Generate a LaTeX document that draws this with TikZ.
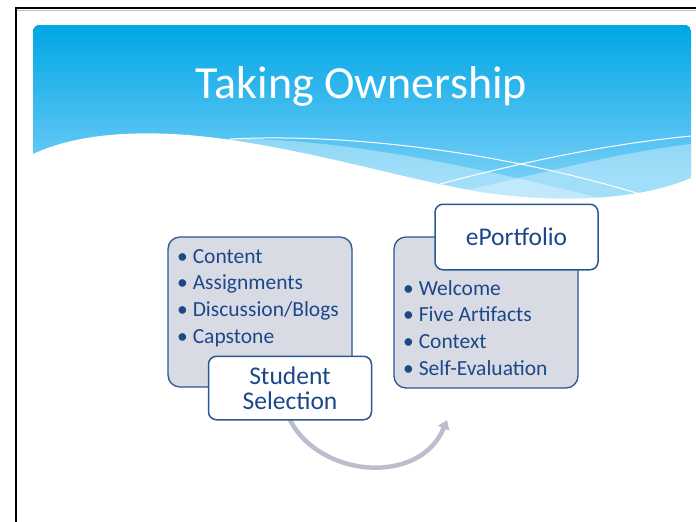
\documentclass[tikz,border=0pt]{standalone}
\usepackage{fontspec}
\setmainfont{Carlito}
\usetikzlibrary{arrows.meta}
\definecolor{skytop}{RGB}{0,166,229}
\definecolor{skybot}{RGB}{112,205,246}
\definecolor{txtblue}{RGB}{28,72,138}
\definecolor{boxblue}{RGB}{40,88,150}
\definecolor{boxgray}{RGB}{217,219,228}
\definecolor{arrowgray}{RGB}{186,190,205}

\begin{document}
\begin{tikzpicture}[
  x=1pt, y=-1pt,
  listbox/.style={draw=boxblue, line width=1.3pt, rounded corners=12pt, fill=boxgray, minimum width=184pt, minimum height=150pt},
  labelbox/.style={draw=boxblue, line width=1.5pt, rounded corners=8pt, fill=white, minimum width=163pt, align=center, text=txtblue, font=\fontsize{25.5}{25.5}\selectfont},
  item/.style={anchor=base west, inner sep=0pt, text=txtblue, font=\fontsize{21.5}{26}\selectfont},
  band/.style={fill=white, opacity=0.35},
  flow/.style={draw=arrowgray, line width=4.5pt, -{Triangle[length=9pt,width=12pt]}},
]
\useasboundingbox[fill=white] (0,0) rectangle (696,522);

% slide frame
\draw[gray!50, line width=1pt] (17,10.5) -- (696,10.5);
\draw[line width=2pt] (16,522) -- (16,8) -- (696,8);

% header banner
\begin{scope}
  \clip[rounded corners=7pt] (33,25) rectangle (691,240);
  \fill[top color=skytop, bottom color=skybot] (33,25) rectangle (691,175);
  \fill[skybot] (33,175) rectangle (691,215);
  \fill[band] (222,139) .. controls (320,137) and (440,158) .. (600,198) -- (691,212) -- (691,215) -- (222,215) -- cycle;
  \fill[band] (420,200) .. controls (520,180) and (600,155) .. (691,144) -- (691,215) -- (420,215) -- cycle;
  \fill[white] (33,154) .. controls (80,132) and (150,128) .. (231,140)
    .. controls (330,155) and (400,178) .. (480,192)
    .. controls (560,204) and (640,200) .. (691,178) -- (691,240) -- (33,240) -- cycle;
  \draw[white, line width=1pt] (230,139) .. controls (330,134) and (480,146) .. (640,194);
  \draw[white, line width=1pt] (440,184) .. controls (520,163) and (600,145) .. (691,136);
\end{scope}
\node[anchor=base, text=white, font=\fontsize{46}{46}\selectfont] (title) at (361.5,98) {Taking Ownership};

% left group
\node[listbox] (choices) at (260,312) {};
\foreach \t [count=\i] in {Content, Assignments, Discussion/Blogs, Capstone}
  \node[item] (choice\i) at (177,{263+26.7*(\i-1)}) {• \t};

% right group
\node[listbox, minimum height=151pt] (parts) at (486,312.5) {};
\foreach \t [count=\i] in {Welcome, Five Artifacts, Context, Self-Evaluation}
  \node[item] (part\i) at (403,{295+26.7*(\i-1)}) {• \t};
\node[labelbox, minimum height=65.5pt] (eport) at (516.5,237) {ePortfolio};

% transfer arrow, then the label box over its tail
\coordinate (arrowtip) at (447,420);
\coordinate (arrowtail) at (290,420);
\draw[flow] (arrowtail) .. controls (320,478) and (420,486) .. (arrowtip);
\node[labelbox, minimum height=63.5pt] (select) at (290,388) {Student\\Selection};
\end{tikzpicture}
\end{document}
